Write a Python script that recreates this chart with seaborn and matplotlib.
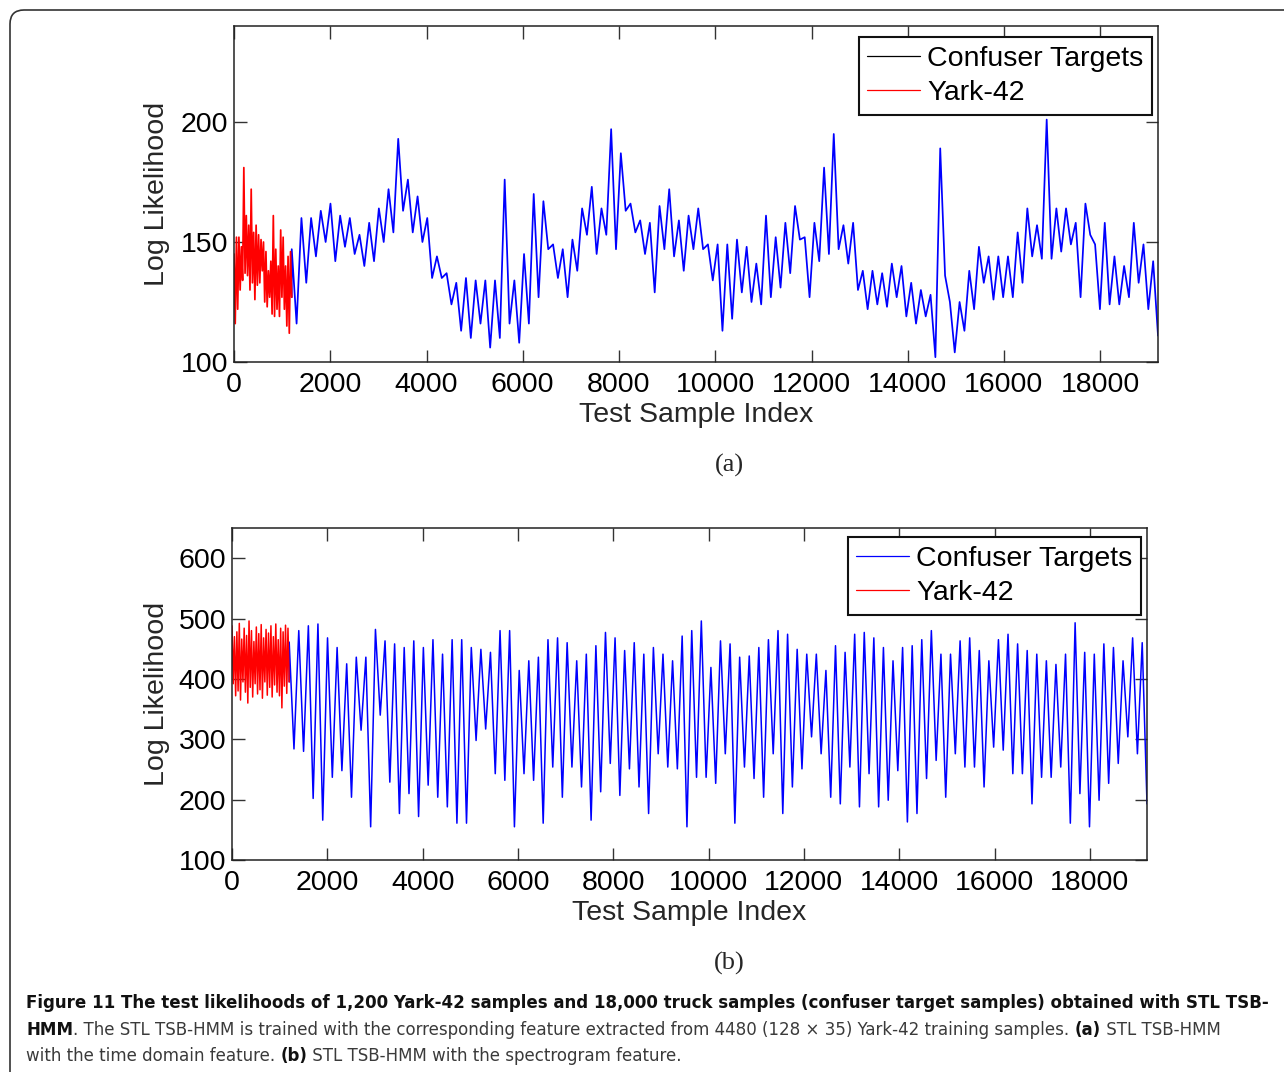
import numpy as np
import pandas as pd
import matplotlib
matplotlib.use("Agg")
import matplotlib.pyplot as plt
import seaborn as sns
from matplotlib import font_manager
from matplotlib.lines import Line2D
from matplotlib.patches import FancyBboxPatch

# ---- panel (a): time domain feature, per-bin (high, low) readings ----
yark_a_hi = [145, 152, 152, 148, 181, 161, 157, 172, 154, 157, 153, 151,
             150, 146, 138, 142, 161, 147, 140, 155, 152, 140, 144, 146]
yark_a_lo = [116, 122, 130, 134, 137, 136, 130, 133, 126, 132, 133, 138,
             125, 123, 127, 120, 119, 122, 119, 127, 122, 115, 112, 127]

conf_a_hi = [147, 160, 160, 163, 166, 161, 160, 153, 158, 164, 172, 193, 176,
             169, 160, 144, 137, 133, 135, 134, 134, 134, 176, 134, 145, 170,
             167, 149, 147, 151, 164, 173, 164,
             197, 187, 166, 159, 158, 165, 172, 159, 161, 164, 149, 149, 149,
             151, 148, 141, 161, 152, 158,
             165, 152, 158, 181, 195, 157, 158, 138, 138, 137, 141, 140, 133,
             130, 128, 189, 125, 125, 138,
             148, 144, 144, 144, 154, 164, 157, 201, 164, 164, 158, 166, 149,
             158, 144, 140, 158, 149, 142]
conf_a_lo = [116, 133, 144, 150, 142, 148, 145, 140, 142, 150, 154, 163, 154,
             150, 135, 135, 124, 113, 110, 116, 106, 110, 116, 108, 116, 127,
             147, 135, 127, 138, 153, 145, 153,
             147, 163, 154, 145, 129, 147, 144, 138, 147, 147, 134, 113, 118,
             129, 125, 124, 127, 131, 137,
             151, 127, 142, 145, 147, 141, 130, 122, 124, 123, 127, 119, 116,
             119, 102, 136, 104, 113, 122,
             133, 126, 127, 127, 133, 144, 143, 143, 146, 149, 127, 153, 122,
             124, 124, 127, 133, 122, 111]

# ---- panel (b): spectrogram feature, per-bin (high, low) readings ----
yark_b_hi = [488, 470, 478, 492, 466, 484, 472, 496, 480, 462, 486, 475,
             490, 468, 482, 476, 488, 470, 491, 465, 484, 478, 489, 484]
yark_b_lo = [392, 372, 380, 365, 395, 378, 360, 386, 370, 392, 375, 382,
             368, 395, 373, 386, 370, 390, 378, 372, 352, 388, 376, 395]

conf_b_hi = [461, 480, 488, 491, 468, 452, 425, 436, 436, 482, 463, 458, 452,
             463, 452, 465, 441, 465, 465, 452, 449, 444, 480, 480, 414, 430,
             436, 465,
             468, 460, 430, 441, 455, 477, 468, 447, 460, 441, 452, 441, 430,
             471, 480, 496, 419, 463, 458, 436, 438, 452, 465, 480, 474, 449,
             441, 441, 414, 455, 444,
             474, 477, 468, 452, 430, 452, 455, 465, 480, 441, 441, 463, 468,
             447, 430, 465, 474, 458, 447, 441, 430, 424, 441, 493, 444, 441,
             458, 452, 430, 468, 460]
conf_b_lo = [284, 280, 202, 166, 237, 248, 204, 315, 155, 340, 229, 177, 210,
             172, 224, 204, 188, 161, 161, 298, 317, 243, 232, 155, 243, 232,
             161, 254,
             204, 254, 221, 166, 213, 260, 207, 251, 221, 177, 276, 254, 251,
             155, 237, 237, 227, 276, 161, 254, 235, 204, 276, 177, 221, 251,
             304, 276, 204, 193, 254,
             188, 243, 188, 199, 248, 163, 177, 235, 265, 204, 276, 254, 254,
             221, 287, 282, 243, 243, 193, 237, 237, 254, 161, 210, 155, 199,
             227, 260, 304, 276, 193]

x_ticks = [0, 2000, 4000, 6000, 8000, 10000, 12000, 14000, 16000, 18000]


def zigzag(hi, lo):
    out = []
    for h, l in zip(hi, lo):
        out.extend([h, l])
    return np.array(out, dtype=float)


def make_frame(yark_hi, yark_lo, conf_hi, conf_lo):
    yark = zigzag(yark_hi, yark_lo)
    conf = zigzag(conf_hi, conf_lo)
    x_yark = np.linspace(0, 1200, len(yark))
    x_conf = np.linspace(1200, 19200, len(conf))
    conf = np.concatenate([[yark[-1]], conf])
    x_conf = np.concatenate([[1200], x_conf])
    return (pd.DataFrame({"idx": x_yark, "ll": yark}),
            pd.DataFrame({"idx": x_conf, "ll": conf}))


sns.set_style("ticks")
plt.rcParams["font.family"] = ["Liberation Sans", "DejaVu Sans"]

W, H = 1284, 1072
FS = 20.5
fig = plt.figure(figsize=(W / 100, H / 100), dpi=100)
fig.patch.set_facecolor("white")


def px_axes(left, top, right, bottom):
    return fig.add_axes([left / W, 1 - bottom / H, (right - left) / W, (bottom - top) / H])


def style_axes(ax, ylim, yticks, conf_handle_color, legend_anchor):
    ax.set_xlim(0, 19200)
    ax.set_ylim(*ylim)
    ax.set_xticks(x_ticks)
    ax.set_yticks(yticks)
    ax.tick_params(direction="in", length=9, width=1, labelsize=FS, top=True, right=True,
                   color="#333333", labelcolor="black")
    ax.tick_params(axis="x", pad=7)
    ax.tick_params(axis="y", pad=4)
    for s in ax.spines.values():
        s.set_visible(True)
        s.set_linewidth(1.1)
        s.set_color("#222222")
    ax.set_xlabel("Test Sample Index", fontsize=FS)
    ax.set_ylabel("Log Likelihood", fontsize=FS)
    handles = [Line2D([], [], color=conf_handle_color, lw=0.9),
               Line2D([], [], color="red", lw=0.9)]
    leg = ax.legend(handles, ["Confuser Targets", "Yark-42"], loc="upper right",
                    bbox_to_anchor=legend_anchor, borderaxespad=0, fontsize=FS,
                    frameon=True, fancybox=False, framealpha=1, edgecolor="#111111",
                    handlelength=1.85, handletextpad=0.25, borderpad=0.3, labelspacing=0.3)
    leg.get_frame().set_linewidth(1.5)
    for t in leg.get_texts():
        t.set_color("black")


# panel (a)
ax1 = px_axes(234, 26, 1158, 362)
ya, ca = make_frame(yark_a_hi, yark_a_lo, conf_a_hi, conf_a_lo)
sns.lineplot(data=ca, x="idx", y="ll", color="blue", lw=1.25, ax=ax1, sort=False, estimator=None)
sns.lineplot(data=ya, x="idx", y="ll", color="red", lw=1.25, ax=ax1, sort=False, estimator=None)
style_axes(ax1, (100, 240), [100, 150, 200], "black", (0.9935, 0.967))
ax1.xaxis.set_label_coords(0.5, -0.12)
ax1.yaxis.set_label_coords(-0.069, 0.5)

# panel (b)
ax2 = px_axes(232, 528, 1147, 860)
yb, cb = make_frame(yark_b_hi, yark_b_lo, conf_b_hi, conf_b_lo)
sns.lineplot(data=cb, x="idx", y="ll", color="blue", lw=1.1, ax=ax2, sort=False, estimator=None)
sns.lineplot(data=yb, x="idx", y="ll", color="red", lw=1.1, ax=ax2, sort=False, estimator=None)
style_axes(ax2, (100, 650), [100, 200, 300, 400, 500, 600], "blue", (0.9934, 0.973))
ax2.xaxis.set_label_coords(0.5, -0.121)
ax2.yaxis.set_label_coords(-0.068, 0.5)

# sub-panel labels
fig.text(729 / W, 1 - 465 / H, "(a)", fontsize=19, family="Liberation Serif", ha="center", va="center")
fig.text(729 / W, 1 - 963 / H, "(b)", fontsize=19, family="Liberation Serif", ha="center", va="center")

# rounded page border
border = FancyBboxPatch((10, -30), 1320, H - 10 + 30, boxstyle="round,pad=0,rounding_size=14",
                        transform=None, fill=False, edgecolor="#333333", lw=1.2)
fig.patches.append(border)

# caption: a condensed face if one is installed, sized so the first line fits the page
cap_kw = {"family": ["Liberation Sans", "DejaVu Sans"]}
try:
    path = font_manager.findfont(font_manager.FontProperties(family="DejaVu Sans", stretch="condensed"),
                                 fallback_to_default=False)
    if "Condensed" in path:
        cap_kw = {"family": ["DejaVu Sans"], "fontstretch": "condensed"}
except Exception:
    pass

cap_lines = [
    [("Figure 11 The test likelihoods of 1,200 Yark-42 samples and 18,000 truck samples "
      "(confuser target samples) obtained with STL TSB-", "bold")],
    [("HMM", "bold"),
     (". The STL TSB-HMM is trained with the corresponding feature extracted from 4480 "
      "(128 \u00d7 35) Yark-42 training samples. ", "normal"),
     ("(a)", "bold"), (" STL TSB-HMM", "normal")],
    [("with the time domain feature. ", "normal"), ("(b)", "bold"),
     (" STL TSB-HMM with the spectrogram feature.", "normal")],
]
cap_y = [1003, 1030, 1056]
renderer = fig.canvas.get_renderer()
probe = fig.text(0, 0, cap_lines[0][0][0], fontsize=14, fontweight="bold", **cap_kw)
cap_fs = 14 * (1278 - 26) / probe.get_window_extent(renderer).width
probe.remove()
cap_fs = min(cap_fs, 15.5)

for line, yy in zip(cap_lines, cap_y):
    x = 26
    for txt, weight in line:
        t = fig.text(x / W, 1 - yy / H, txt, fontsize=cap_fs, fontweight=weight,
                     color="#111111" if weight == "bold" else "#3a3a3a",
                     ha="left", va="center", **cap_kw)
        x = t.get_window_extent(renderer).x1

fig.savefig("out.png", dpi=100)
